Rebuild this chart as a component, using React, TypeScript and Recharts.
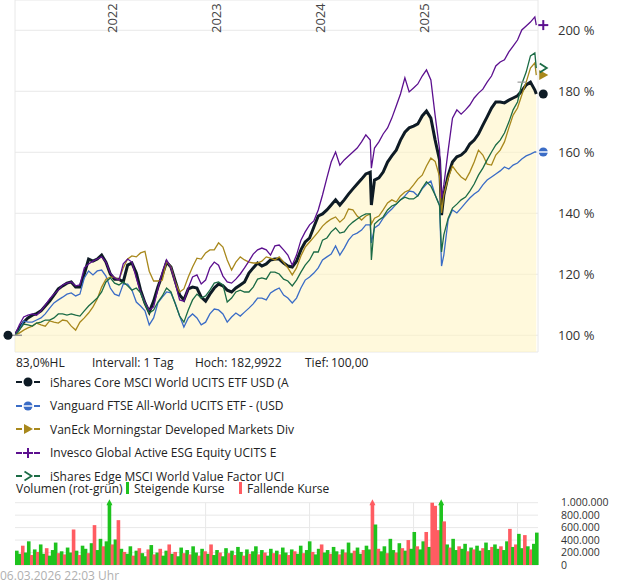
import React from 'react';
import {
  ComposedChart,
  Area,
  Line,
  XAxis,
  YAxis,
  CartesianGrid,
  ReferenceDot,
  ReferenceLine,
  BarChart,
  Bar,
} from 'recharts';

const FONT = '"Open Sans", "Noto Sans", sans-serif';

// ---------- DATA ----------
const dates = [
  '2021-03-01','2021-03-16','2021-04-01','2021-04-16','2021-05-01','2021-05-16','2021-06-01','2021-06-16','2021-07-01','2021-07-16',
  '2021-08-01','2021-08-16','2021-09-01','2021-09-16','2021-10-01','2021-10-16','2021-11-01','2021-11-16','2021-12-01','2021-12-16',
  '2022-01-01','2022-01-16','2022-02-01','2022-02-16','2022-03-01','2022-03-16','2022-04-01','2022-04-16','2022-05-01','2022-05-16',
  '2022-06-01','2022-06-16','2022-07-01','2022-07-16','2022-08-01','2022-08-16','2022-09-01','2022-09-16','2022-10-01','2022-10-16',
  '2022-11-01','2022-11-16','2022-12-01','2022-12-16',
  '2023-01-01','2023-01-16','2023-02-01','2023-02-16','2023-03-01','2023-03-16','2023-04-01','2023-04-16','2023-05-01','2023-05-16',
  '2023-06-01','2023-06-16','2023-07-01','2023-07-16','2023-08-01','2023-08-16','2023-09-01','2023-09-16','2023-10-01','2023-10-16',
  '2023-11-01','2023-11-16','2023-12-01','2023-12-16',
  '2024-01-01','2024-01-16','2024-02-01','2024-02-16','2024-03-01','2024-03-16','2024-04-01','2024-04-16','2024-05-01','2024-05-16',
  '2024-06-01','2024-06-16','2024-07-01','2024-07-16','2024-08-01','2024-08-05','2024-08-16','2024-09-01','2024-09-16','2024-10-01',
  '2024-10-16','2024-11-01','2024-11-16','2024-12-01','2024-12-16',
  '2025-01-01','2025-01-16','2025-02-01','2025-02-16','2025-03-01','2025-03-16','2025-04-01','2025-04-08','2025-04-16','2025-05-01',
  '2025-05-16','2025-06-01','2025-06-16','2025-07-01','2025-07-16','2025-08-01','2025-08-16','2025-09-01','2025-09-16','2025-10-01',
  '2025-10-16','2025-11-01','2025-11-16','2025-12-01','2025-12-16',
  '2026-01-01','2026-01-16','2026-02-01','2026-02-16','2026-03-01','2026-03-06',
];

const coreMsci = [
  100.0,102.4,104.3,105.7,106.6,107.1,108.0,109.6,111.2,113.2,115.2,116.2,117.1,117.5,115.8,115.8,120.1,125.0,124.3,125.0,
  126.3,124.0,120.1,118.4,118.4,117.5,123.0,123.7,120.4,114.8,110.6,107.6,111.2,115.8,119.8,124.0,122.4,117.8,113.2,111.6,115.2,115.8,115.5,112.5,
  111.2,113.5,115.5,116.8,116.2,114.8,114.2,115.5,116.5,117.5,120.4,122.1,123.7,122.7,123.4,124.7,125.0,125.0,123.7,122.7,122.4,124.3,128.0,130.6,
  131.9,135.5,139.1,139.8,141.1,142.7,144.4,142.7,144.4,146.3,148.0,149.6,151.2,152.9,153.5,142.7,
  150.9,151.6,153.5,156.8,158.8,160.7,164.0,166.6,168.0,168.6,169.3,171.9,173.5,171.2,164.0,157.5,139.4,
  146.0,152.5,156.8,158.5,159.1,160.4,162.7,164.0,166.0,168.9,171.6,174.5,176.5,176.5,176.2,177.1,177.8,178.5,180.1,182.1,183.0,180.4,179.1,
];

const vanguardAllWorld = [
  100.0,101.7,104.7,104.3,104.3,105.0,105.7,107.0,108.9,110.6,111.6,112.5,113.5,113.9,112.9,113.5,118.8,121.1,119.8,121.1,
  121.4,119.4,115.5,113.5,112.9,116.8,116.8,114.8,110.9,109.6,108.0,103.4,105.7,110.6,112.5,114.2,113.9,110.6,106.3,102.7,105.7,107.0,105.7,103.4,
  104.3,107.0,108.6,108.3,107.0,104.3,106.0,107.3,106.3,107.6,108.9,110.3,112.2,112.2,111.6,113.9,114.8,115.5,113.2,112.2,110.6,112.2,115.5,118.1,
  119.1,120.4,122.1,124.7,125.7,126.6,129.3,126.3,128.6,131.2,132.9,133.5,134.5,136.2,136.2,130.3,
  135.2,136.2,138.4,140.1,141.4,143.0,144.4,145.7,147.3,147.0,145.7,148.0,149.6,150.6,146.0,142.7,122.7,
  126.3,138.0,141.1,140.1,141.7,143.4,145.0,146.3,147.3,149.3,150.9,151.9,152.9,153.9,155.2,154.5,155.8,156.5,157.8,158.8,159.4,160.1,160.1,
];

const vanEckDividend = [
  100.0,100.7,101.7,102.4,103.0,104.0,103.4,103.0,104.7,104.3,104.0,105.0,104.7,103.0,101.7,104.3,105.7,107.3,109.3,111.9,
  115.8,118.4,119.1,119.1,118.1,122.1,125.0,126.0,125.7,127.0,127.5,121.0,117.8,117.8,118.1,124.3,122.4,117.5,114.2,115.2,119.1,122.4,125.3,125.0,
  127.0,128.0,128.0,130.3,128.9,124.7,121.4,124.0,125.7,124.7,124.0,123.7,123.7,124.3,125.7,125.3,124.7,125.7,124.0,122.1,119.8,122.1,126.0,128.9,
  130.6,132.2,133.9,135.8,137.1,138.1,138.8,137.1,138.4,141.4,141.1,139.1,137.8,139.1,139.8,136.5,
  138.4,139.1,141.1,143.4,144.4,143.7,145.7,147.0,147.6,149.3,151.2,152.5,155.5,158.1,157.0,152.0,140.1,
  146.0,151.6,155.5,153.5,151.9,150.9,153.5,156.8,160.7,159.1,156.1,155.8,159.1,160.7,163.4,168.0,172.2,174.5,178.8,183.0,187.6,189.3,185.3,
];

const invescoEsg = [
  100.0,103.4,106.0,106.6,107.0,106.6,108.0,109.9,111.9,113.5,114.8,116.5,117.1,117.5,116.2,116.5,122.1,123.4,124.3,125.0,
  125.7,124.0,120.4,118.8,118.1,123.4,125.0,124.0,118.8,114.2,110.9,108.3,109.3,115.2,120.7,124.7,122.1,117.1,111.6,111.2,115.5,119.1,119.8,116.8,
  118.1,122.1,124.0,123.0,119.4,117.5,117.1,118.4,120.1,122.1,124.3,126.6,128.0,128.6,128.0,126.3,129.3,129.6,128.0,126.3,123.0,126.3,131.2,133.9,
  136.2,137.5,141.1,146.0,151.6,156.8,160.1,155.8,157.5,158.8,160.1,161.4,163.4,165.7,164.0,154.8,
  161.4,163.4,166.0,168.0,171.2,175.2,179.1,184.4,179.8,181.1,182.4,185.0,187.0,183.7,172.0,161.0,145.0,
  149.3,160.7,171.2,173.9,172.5,173.9,175.5,177.8,179.4,180.7,183.0,185.0,188.3,189.6,190.3,192.9,194.8,196.8,200.1,201.4,202.7,204.4,201.7,
];

const edgeValue = [
  100.0,101.7,103.7,103.4,103.0,104.0,104.3,105.0,105.0,105.7,107.0,107.0,106.6,107.0,106.6,106.3,108.0,109.6,110.9,112.2,
  114.2,117.5,118.8,117.1,116.5,117.5,116.2,114.8,115.5,113.9,110.3,107.3,108.3,110.9,112.9,115.5,114.2,110.3,106.3,104.3,108.3,111.6,113.5,112.2,
  112.9,114.8,117.1,117.5,116.5,110.9,112.2,114.2,114.8,114.2,114.2,115.8,118.4,118.8,118.4,120.7,120.7,120.1,118.4,117.8,116.2,118.1,120.7,123.0,
  124.7,127.3,127.3,131.2,131.9,133.9,135.2,133.5,133.9,135.8,137.1,138.1,139.1,139.8,139.8,124.7,
  136.5,137.8,138.8,141.1,142.4,143.0,144.4,145.3,144.7,144.7,145.7,148.3,150.3,148.9,146.0,142.5,127.3,
  132.9,138.4,141.7,143.0,144.4,145.3,147.3,149.6,152.5,154.8,157.5,160.1,162.4,164.0,166.3,169.9,173.9,176.5,182.4,186.3,191.6,192.6,187.6,
];

const yearTicks = [2022, 2023, 2024, 2025, 2026];
const yearLabels = ['2022', '2023', '2024', '2025', ''];
const pctTicks = [100, 120, 140, 160, 180, 200];

// daily-ish volume (thousands), 1 = rising, 0 = falling
const volumeK = [
  230,180,310,200,380,160,250,210,330,180,
  270,150,240,360,190,220,170,280,200,570,
  230,160,310,260,190,350,640,240,420,300,
  380,1500,330,410,720,260,210,180,300,150,
  230,270,190,140,250,320,170,200,260,150,
  230,330,180,210,140,280,190,240,170,300,
  200,150,260,220,180,330,160,240,200,140,
  270,190,230,160,290,210,150,250,180,220,
  300,170,240,200,150,260,190,230,170,280,
  200,160,250,220,180,310,190,240,380,210,
  170,260,330,200,240,180,290,220,170,250,
  200,360,190,230,280,180,240,310,250,1300,
  650,260,220,300,190,420,240,200,350,270,
  230,400,260,530,300,250,380,530,290,1000,
  950,560,1400,700,330,280,420,240,300,260,
  340,220,280,250,310,230,270,360,240,290,
  330,260,300,240,380,580,290,330,500,270,
  480,300,250,340,520,
];
const volumeUp = [
  1,1,0,1,1,0,1,0,1,1,
  0,1,1,1,0,1,0,1,1,0,
  1,0,1,1,0,1,0,1,1,0,
  1,1,0,1,0,1,0,1,1,0,
  1,0,1,1,0,1,0,1,0,1,
  1,0,1,0,1,1,0,1,0,1,
  1,0,1,0,1,0,1,1,0,1,
  1,0,1,0,1,1,0,1,0,1,
  1,0,1,0,1,1,0,1,0,1,
  1,0,1,0,1,1,0,1,1,0,
  1,1,0,1,1,0,1,1,0,1,
  0,1,1,0,1,1,0,1,1,0,
  1,0,1,1,0,1,1,0,1,0,
  1,0,1,1,0,1,1,0,1,0,
  0,0,1,0,1,0,1,1,0,1,
  1,0,1,0,1,1,0,1,1,0,
  1,1,0,1,1,0,1,0,1,1,
  0,1,0,1,1,
];
const volTicks = [0, 200000, 400000, 600000, 800000, 1000000];

// ---------- CONFIG ----------
const toYear = (s: string) => {
  const [y, m, d] = s.split('-').map(Number);
  return y + (m - 1) / 12 + (d - 1) / 365;
};

const X_START = toYear(dates[0]);
const X_END = 2026.197;
const Y_MIN = 94.52;
const Y_MAX = 209.93;
const VOL_MAX = 1000000;
const GREEN = '#1ec31e';
const RED = '#ff5c62';
const BLACK = '#0e1b25';

const seriesInfo = [
  { key: 'core', values: coreMsci, name: 'iShares Core MSCI World UCITS ETF USD (A', color: BLACK, width: 3, marker: 'circle' },
  { key: 'vanguard', values: vanguardAllWorld, name: 'Vanguard FTSE All-World UCITS ETF - (USD', color: '#3a6cc6', width: 1.3, marker: 'split' },
  { key: 'vaneck', values: vanEckDividend, name: 'VanEck Morningstar Developed Markets Div', color: '#a8881c', width: 1.3, marker: 'triangle' },
  { key: 'invesco', values: invescoEsg, name: 'Invesco Global Active ESG Equity UCITS E', color: '#5c108f', width: 1.3, marker: 'plus' },
  { key: 'value', values: edgeValue, name: 'iShares Edge MSCI World Value Factor UCI', color: '#1b6b45', width: 1.3, marker: 'chevron' },
];

const mainData = dates.map((d, i) => {
  const row: any = { t: toYear(d) };
  seriesInfo.forEach((s) => {
    row[s.key] = s.values[i];
  });
  return row;
});

const volData = volumeK.map((v, i) => ({ i, v: v * 1000, up: volumeUp[i] === 1 }));

const maxCore = Math.max(...coreMsci);
const lastIdx = dates.length - 1;
const lastT = toYear(dates[lastIdx]);

function markerShape(type: string, color: string, cx: number, cy: number) {
  switch (type) {
    case 'circle':
      return <circle cx={cx} cy={cy} r={4.5} fill={color} />;
    case 'split':
      return (
        <g>
          <circle cx={cx} cy={cy} r={4.5} fill={color} />
          <line x1={cx - 5} y1={cy} x2={cx + 5} y2={cy} stroke="#fff" strokeWidth={1.4} />
        </g>
      );
    case 'triangle':
      return <polygon points={`${cx - 4},${cy - 5} ${cx + 5},${cy} ${cx - 4},${cy + 5}`} fill={color} />;
    case 'plus':
      return (
        <g stroke={color} strokeWidth={2}>
          <line x1={cx - 5} y1={cy} x2={cx + 5} y2={cy} />
          <line x1={cx} y1={cy - 5} x2={cx} y2={cy + 5} />
        </g>
      );
    default:
      return (
        <polyline
          points={`${cx - 3.5},${cy - 4.5} ${cx + 3.5},${cy} ${cx - 3.5},${cy + 4.5}`}
          fill="none"
          stroke={color}
          strokeWidth={1.8}
        />
      );
  }
}

const VolBar = (props: any) => {
  const { x, y, width, height, payload } = props;
  if (x == null || y == null) return <g />;
  const color = payload && payload.up ? GREEN : RED;
  const w = Math.max(width, 1) + 0.6;
  const cx = x + w / 2;
  return (
    <g>
      <rect x={x} y={y} width={w} height={Math.max(height, 0)} fill={color} />
      {payload && payload.v > VOL_MAX ? (
        <polygon points={`${cx},${y - 3.5} ${cx - 3},${y + 2.5} ${cx + 3},${y + 2.5}`} fill={color} />
      ) : null}
    </g>
  );
};

const fmtDe = (v: number) => String(v).replace(/\B(?=(\d{3})+(?!\d))/g, '.');

// vertical grid lines of the volume panel, at the same year positions as the price panel
const volVerticalLines = ({ offset }: any) =>
  yearTicks.map((yr) => offset.left + ((yr - X_START) / (X_END - X_START)) * offset.width);

const textStyle: React.CSSProperties = {
  position: 'absolute',
  fontSize: 12,
  color: '#222',
  whiteSpace: 'nowrap',
  lineHeight: '18px',
  fontFamily: FONT,
};

export default function App() {
  return (
    <div style={{ position: 'absolute', left: 0, top: 0, width: 620, height: 583, background: '#fff', fontFamily: FONT, overflow: 'hidden' }}>
      <div style={{ position: 'absolute', left: 0, top: 0 }}>
        <ComposedChart width={620} height={353} data={mainData} margin={{ top: 0, right: 22, bottom: 1, left: 15 }}>
          <CartesianGrid stroke="#e8e8e8" />
          <XAxis
            type="number"
            dataKey="t"
            domain={[X_START, X_END]}
            ticks={yearTicks}
            orientation="top"
            height={0}
            axisLine={false}
            tickLine={false}
            tick={false}
            interval={0}
            allowDataOverflow
          />
          <YAxis
            orientation="right"
            domain={[Y_MIN, Y_MAX]}
            ticks={pctTicks}
            interval={0}
            width={60}
            allowDataOverflow
            axisLine={false}
            tickLine={false}
            tickSize={0}
            tickMargin={20}
            tick={{ fontSize: 13, fill: '#333', fontFamily: FONT }}
            tickFormatter={(v: number) => `${v} %`}
          />
          <Area dataKey="core" type="linear" fill="#fff4bf" fillOpacity={0.55} stroke="none" isAnimationActive={false} />
          {seriesInfo.map((s) => (
            <Line
              key={s.key}
              dataKey={s.key}
              type="linear"
              stroke={s.color}
              strokeWidth={s.width}
              dot={false}
              activeDot={false}
              isAnimationActive={false}
            />
          ))}
          {yearTicks.map((yr, i) =>
            yearLabels[i] ? (
              <ReferenceLine
                key={'yr-' + yr}
                x={yr}
                stroke="none"
                ifOverflow="visible"
                label={(p: any) => {
                  const vb = p.viewBox || {};
                  const x = vb.x ?? 0;
                  const y0 = vb.y ?? 0;
                  return (
                    <text
                      transform={`translate(${x + 15},${y0 + 33}) rotate(-90)`}
                      fontSize={13}
                      fill="#444"
                      fontFamily={FONT}
                      textAnchor="start"
                    >
                      {yearLabels[i]}
                    </text>
                  );
                }}
              />
            ) : null
          )}
          <ReferenceLine
            segment={[
              { x: toYear('2026-01-01'), y: maxCore },
              { x: toYear('2026-02-01'), y: maxCore },
            ]}
            stroke="#999"
            strokeWidth={1.2}
            ifOverflow="visible"
          />
          <ReferenceDot
            x={X_START}
            y={coreMsci[0]}
            ifOverflow="visible"
            shape={(p: any) => (
              <g>
                <line x1={p.cx - 7} y1={p.cy} x2={p.cx + 7} y2={p.cy} stroke="#999" strokeWidth={1.5} />
                <circle cx={p.cx - 7} cy={p.cy} r={4.5} fill={BLACK} />
              </g>
            )}
          />
          {seriesInfo.map((s) => (
            <ReferenceDot
              key={'end-' + s.key}
              x={lastT}
              y={s.values[lastIdx]}
              ifOverflow="visible"
              shape={(p: any) => markerShape(s.marker, s.color, p.cx + 7, p.cy)}
            />
          ))}
        </ComposedChart>
      </div>

      {/* info line */}
      <div style={{ ...textStyle, left: 16, top: 354 }}>83,0%HL</div>
      <div style={{ ...textStyle, left: 92, top: 354 }}>Intervall: 1 Tag</div>
      <div style={{ ...textStyle, left: 195, top: 354 }}>Hoch: 182,9922</div>
      <div style={{ ...textStyle, left: 305, top: 354 }}>Tief:</div>
      <div style={{ ...textStyle, left: 331, top: 354 }}>100,00</div>

      {/* legend */}
      {seriesInfo.map((s, i) => (
        <div key={'lg-' + s.key} style={{ position: 'absolute', left: 0, top: 373 + i * 23.6, height: 18, width: 420 }}>
          <svg width={44} height={18} style={{ position: 'absolute', left: 0, top: 0 }}>
            <line x1={16} y1={9} x2={22} y2={9} stroke={s.color} strokeWidth={2} />
            <line x1={34} y1={9} x2={40} y2={9} stroke={s.color} strokeWidth={2} />
            {markerShape(s.marker, s.color, 28, 9)}
          </svg>
          <div style={{ ...textStyle, left: 50, top: 2.5, lineHeight: '13px' }}>{s.name}</div>
        </div>
      ))}

      {/* volume header */}
      <div style={{ ...textStyle, left: 16, top: 483, lineHeight: '12px' }}>Volumen (rot-grün)</div>
      <svg width={620} height={18} style={{ position: 'absolute', left: 0, top: 479 }}>
        <rect x={126} y={3} width={3} height={12} fill={GREEN} />
        <rect x={239} y={3} width={3} height={12} fill={RED} />
      </svg>
      <div style={{ ...textStyle, left: 134, top: 483, lineHeight: '12px' }}>Steigende Kurse</div>
      <div style={{ ...textStyle, left: 247, top: 483, lineHeight: '12px' }}>Fallende Kurse</div>

      {/* volume chart */}
      <div style={{ position: 'absolute', left: 0, top: 490 }}>
        <BarChart
          width={620}
          height={88}
          data={volData}
          margin={{ top: 12.7, right: 22, bottom: 13, left: 15 }}
          barCategoryGap={0}
          barGap={0}
        >
          <CartesianGrid stroke="#e8e8e8" verticalCoordinatesGenerator={volVerticalLines} />
          <XAxis dataKey="i" hide />
          <YAxis
            orientation="right"
            domain={[0, VOL_MAX]}
            ticks={volTicks}
            interval={0}
            width={60}
            axisLine={false}
            tickLine={false}
            tickSize={0}
            tickMargin={23}
            tick={{ fontSize: 10.5, fill: '#333', fontFamily: FONT }}
            tickFormatter={fmtDe}
          />
          <Bar
            dataKey={(d: any) => Math.min(d.v, VOL_MAX)}
            shape={<VolBar />}
            isAnimationActive={false}
          />
        </BarChart>
      </div>

      {/* footer */}
      <div style={{ ...textStyle, left: 0, top: 569, lineHeight: '14px', color: '#b0b0b0' }}>06.03.2026 22:03 Uhr</div>
    </div>
  );
}
